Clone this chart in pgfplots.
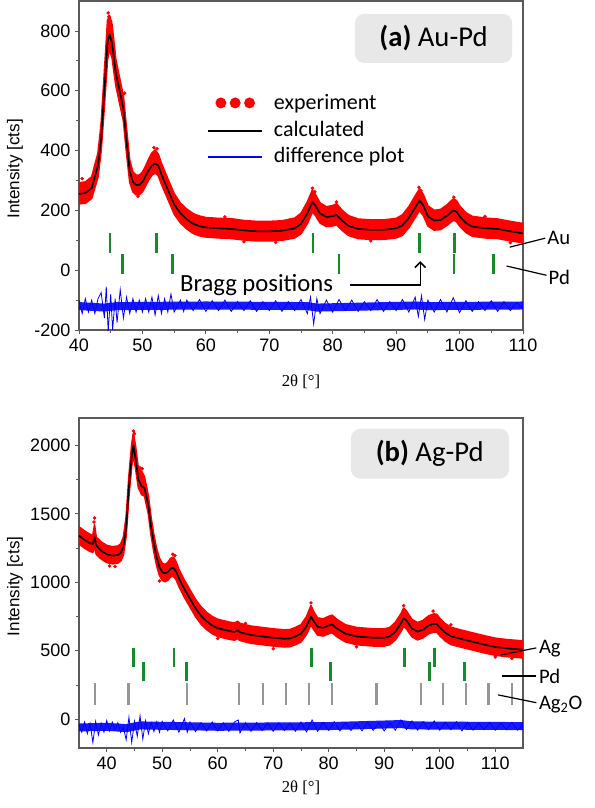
\documentclass[border=0pt]{standalone}
\usepackage{pgfplots}
\pgfplotsset{compat=1.18}
\usepackage{pgfplotstable}
\usepackage{fontspec}
\setmainfont{Liberation Sans}
\newfontfamily\calfont{Carlito}
\newfontfamily\tnr{Liberation Serif}
\usetikzlibrary{arrows.meta}
\definecolor{bragg}{RGB}{20,140,40}
\definecolor{agO}{RGB}{150,150,150}
\definecolor{boxg}{RGB}{232,232,232}
\definecolor{frm}{RGB}{90,90,90}

\pgfplotstableread{
x y
40 255
41 258
42 275
43 350
43.5 440
44 600
44.5 760
44.8 790
45.2 760
45.8 660
46.5 590
47 540
47.5 430
48 330
48.5 295
49 285
49.5 285
50 295
50.5 315
51 335
51.5 350
52 357
52.5 350
53 320
54 270
55 220
56 190
57 170
58 155
59 147
60 143
62 140
64 138
66 133
68 130
70 130
72 132
74 140
75 155
76 190
76.8 228
77.3 215
78 190
79 178
80 180
80.6 185
81.5 165
82.5 148
84 138
86 135
88 135
90 140
91 150
92 175
93 210
93.7 233
94.3 215
95 180
96 166
97 168
98 182
99 200
99.5 196
100 180
101 158
102 146
104 140
106 138
108 130
110 123
}\calcA

\pgfplotstableread{
x y
35 1340
36 1310
37 1285
37.5 1280
37.8 1330
38.1 1270
39 1230
40 1205
41 1195
42 1200
42.5 1215
43 1260
43.5 1400
44 1700
44.5 1920
44.8 2000
45.2 1900
45.7 1750
46.3 1700
46.8 1690
47.5 1560
48 1400
48.5 1280
49 1180
49.5 1110
50 1075
50.5 1065
51 1075
51.5 1100
52 1105
52.5 1080
53 1030
54 950
55 880
56 810
57 755
58 715
59 685
60 665
61 655
62 645
63 638
63.6 650
64 635
66 615
68 605
70 595
72 588
73 590
74 605
75 625
76 680
76.8 750
77.3 715
78 675
79 668
80 685
80.6 692
81.5 662
83 625
85 605
88 595
90 595
91 605
92 640
93 700
93.5 738
94 720
95 662
96 640
97 655
98 685
99 698
99.5 694
100 670
101 632
102 606
104 585
106 565
108 545
110 528
112 518
115 508
}\calcB

\pgfplotsset{
  mystyle/.style={
    scale only axis, width=333pt, clip mode=individual,
    axis line style={frm, line width=0.8pt},
    tick style={frm, line width=0.6pt},
    tick align=outside, xtick pos=bottom, ytick pos=left,
    major tick length=3pt, minor tick length=2pt,
    minor x tick num=1, minor y tick num=1,
    tick label style={font=\fontsize{13.5}{15}\selectfont},
    /pgf/number format/assume math mode=true,
    /pgf/number format/1000 sep={},
    ylabel={Intensity [cts]},
    every axis y label/.style={at={(axis description cs:-0.144,0.49)}, rotate=90, anchor=center, font=\fontsize{12.8}{14}\selectfont},
    xlabel={\tnr 2θ [°]},
    legend cell align=left,
  }
}

\begin{document}
\begin{tikzpicture}
\path[use as bounding box] (0,0) rectangle (445.5pt,-606pt);

% ---------------- (a) Au-Pd ----------------
\begin{axis}[mystyle,
  at={(59.25pt,-0.75pt)}, anchor=north west, height=246.75pt,
  xmin=40, xmax=110, ymin=-200, ymax=900,
  xtick={40,50,...,110}, ytick={-200,0,...,800},
  every axis x label/.style={at={(axis description cs:0.5,0)}, anchor=center, yshift=-39pt, font=\fontsize{12.5}{14}\selectfont},
  legend style={at={(axis description cs:0.279,0.727)}, anchor=north west, draw=none, fill=none,
    font=\calfont\fontsize{16.5}{18}\selectfont, row sep=3.8pt, column sep=0pt,
    nodes={inner sep=0pt, text height=12pt, text depth=4pt},
    /tikz/every odd column/.append style={column sep=8pt}},
]
% experimental scatter: upper edge forward, lower edge back
\addplot[red, fill=red, line width=1.2pt, line join=round,
  legend image code/.code={\fill[red, draw=none] (9.5pt,0) circle (4.1pt); \fill[red, draw=none] (20.25pt,0) circle (4.1pt); \fill[red, draw=none] (31pt,0) circle (4.1pt);}]
 coordinates {(40,292) (41,295) (42,312) (43,392) (43.5,492) (44,662) (44.5,835) (44.8,852) (45.2,822) (45.8,705) (46.5,632) (47,582) (47.5,472) (48,368) (48.5,328) (49,318) (49.5,318) (50,328) (50.5,348) (51,372) (51.5,392) (52,402) (52.5,388) (53,357) (54,306) (55,256) (56,224) (57,204) (58,189) (59,181) (60,176) (62,173) (64,172) (66,166) (68,163) (70,163) (72,165) (74,174) (75,190) (76,228) (76.8,268) (77.3,252) (78,225) (79,212) (80,216) (80.6,222) (81.5,200) (82.5,182) (84,171) (86,168) (88,168) (90,173) (91,185) (92,212) (93,248) (93.7,272) (94.3,252) (95,215) (96,200) (97,203) (98,218) (99,238) (99.5,233) (100,215) (101,192) (102,180) (104,174) (106,171) (108,163) (110,156)
 (110,92) (108,98) (106,106) (104,108) (102,114) (101,126) (100,148) (99.5,163) (99,167) (98,150) (97,136) (96,134) (95,148) (94.3,182) (93.7,200) (93,176) (92,142) (91,117) (90,108) (88,103) (86,103) (84,106) (82.5,116) (81.5,133) (80.6,152) (80,148) (79,146) (78,158) (77.3,182) (76.8,195) (76,156) (75,122) (74,108) (72,100) (70,98) (68,98) (66,101) (64,106) (62,108) (60,111) (59,115) (58,123) (57,138) (56,158) (55,188) (54,238) (53,287) (52.5,316) (52,325) (51.5,318) (51,302) (50.5,282) (50,262) (49.5,252) (49,252) (48.5,262) (48,294) (47.5,390) (47,500) (46.5,548) (45.8,618) (45.2,712) (44.8,738) (44.5,705) (44,548) (43.5,400) (43,312) (42,240) (41,224) (40,222)};
\addlegendentry{experiment}
\addplot[red, only marks, mark=*, mark size=1.1pt, forget plot] coordinates {
(44.6,860) (44.7,848) (45.0,832) (51.8,410) (52.3,406) (40.5,306) (42.5,320) (43.2,408) (47.2,592)
(76.8,274) (77.2,262) (93.6,277) (93.9,266) (99.1,244) (80.6,228) (66,95) (71,93) (49.3,247) (104,180) (63,178) (86,98) (108,92)};
\addplot[black, line width=1.2pt, line join=round,
  legend image code/.code={\draw[black, line width=1.6pt] (0pt,0pt) -- (40.5pt,0pt);}]
  table[x=x,y=y] {\calcA};
\addlegendentry{calculated}
\addplot[blue, line width=6pt, opacity=0.9,
  legend image code/.code={\draw[blue, line width=1.5pt, opacity=1] (0pt,0pt) -- (40.5pt,0pt);}]
  coordinates {(40,-120) (44,-125) (46,-120) (60,-118) (76,-120) (77.5,-125) (93,-118) (95,-120) (110,-118)};
\addlegendentry{difference plot}
\addplot[blue, line width=0.6pt, forget plot] coordinates {
(40,-100) (40.5,-145) (41,-95) (41.5,-140) (42,-100) (42.5,-145) (43,-95) (43.5,-75) (44,-160) (44.3,-55) (44.6,-205) (45,-80) (45.3,-200) (45.7,-95) (46,-175) (46.5,-65) (47,-160) (47.5,-90) (48,-145) (48.5,-95) (49,-140) (49.5,-100) (50,-140) (50.5,-95) (51,-140) (51.5,-90) (52,-150) (52.5,-85) (53,-145) (53.5,-95) (54,-140) (54.5,-80) (55,-140) (56,-100) (56.5,-138) (57,-100) (58,-135) (59,-98) (60,-138) (61,-102) (62,-135) (63,-100) (64,-138) (65,-105) (66,-135) (67,-102) (68,-138) (69,-105) (70,-135) (71,-102) (72,-138) (73,-105) (74,-135) (75,-98) (76,-145) (76.5,-90) (77,-180) (77.5,-95) (78,-145) (79,-100) (80,-140) (81,-98) (82,-135) (83,-100) (84,-138) (85,-105) (86,-135) (87,-98) (88,-138) (89,-105) (90,-135) (91,-98) (92,-140) (93,-90) (93.5,-155) (94,-85) (94.5,-165) (95,-100) (96,-140) (97,-98) (98,-140) (99,-92) (100,-142) (101,-102) (102,-138) (103,-105) (104,-135) (105,-102) (106,-138) (107,-105) (108,-135) (109,-108) (110,-130)};
% Bragg positions
\addplot[bragg, only marks, mark=|, mark size=7.5pt, mark options={line width=2pt}, forget plot]
  coordinates {(44.9,90) (52.2,90) (76.9,90) (93.7,90) (99.2,90)};
\addplot[bragg, only marks, mark=|, mark size=7.5pt, mark options={line width=2pt}, forget plot]
  coordinates {(46.9,20) (54.7,20) (81.0,20) (99.1,20) (105.3,20)};
% annotations
\fill[boxg, rounded corners=7pt] (axis cs:83.5,693) rectangle (axis cs:108.3,857);
\node[font=\calfont\fontsize{21.5}{24}\selectfont] at (axis cs:95.9,775) {\textbf{(a)} Au-Pd};
\node[anchor=west, inner sep=0pt, font=\calfont\fontsize{18.5}{20}\selectfont] at (axis cs:55.9,-50) {Bragg positions};
\draw[black, line width=1.1pt, -{Straight Barb[length=4pt,width=8pt]}] (axis cs:82.7,-50) -- (axis cs:93.8,-50) -- (axis cs:93.8,30);
\draw[black, line width=0.9pt] (axis cs:107.9,77) -- (axis cs:113.5,107);
\node[anchor=west, inner sep=1pt, font=\calfont\fontsize{15.5}{17}\selectfont] at (axis cs:113.6,107) {Au};
\draw[black, line width=0.9pt] (axis cs:107.4,14) -- (axis cs:113.7,-17);
\node[anchor=west, inner sep=1pt, font=\calfont\fontsize{15.5}{17}\selectfont] at (axis cs:113.8,-24) {Pd};
\end{axis}

% ---------------- (b) Ag-Pd ----------------
\begin{axis}[mystyle,
  at={(59.25pt,-313.5pt)}, anchor=north west, height=247.5pt,
  xmin=35, xmax=115, ymin=-210, ymax=2200,
  xtick={40,50,...,110}, ytick={0,500,...,2000},
  every axis x label/.style={at={(axis description cs:0.5,0)}, anchor=center, yshift=-30pt, font=\fontsize{12.5}{14}\selectfont},
]
\addplot[red, fill=red, line width=1.2pt, line join=round, forget plot]
 coordinates {(35,1405) (36,1375) (37,1350) (37.5,1345) (37.8,1420) (38.1,1330) (39,1295) (40,1270) (41,1260) (42,1265) (42.5,1280) (43,1330) (43.5,1480) (44,1780) (44.5,2010) (44.8,2090) (45.2,1990) (45.7,1830) (46.3,1810) (46.8,1770) (47.5,1630) (48,1470) (48.5,1345) (49,1245) (49.5,1175) (50,1140) (50.5,1130) (51,1145) (51.5,1175) (52,1185) (52.5,1150) (53,1095) (54,1015) (55,945) (56,875) (57,820) (58,780) (59,750) (60,730) (61,720) (62,710) (63,703) (63.6,715) (64,700) (66,680) (68,670) (70,660) (72,653) (73,655) (74,670) (75,690) (76,750) (76.8,830) (77.3,785) (78,740) (79,733) (80,752) (80.6,760) (81.5,728) (83,690) (85,670) (88,660) (90,660) (91,670) (92,708) (93,770) (93.5,812) (94,790) (95,728) (96,706) (97,722) (98,755) (99,770) (99.5,765) (100,738) (101,698) (102,672) (104,650) (106,630) (108,610) (110,592) (112,582) (115,572)
 (115,448) (112,458) (110,468) (108,485) (106,505) (104,525) (102,546) (101,572) (100,610) (99.5,634) (99,638) (98,625) (97,595) (96,580) (95,602) (94,660) (93.5,678) (93,640) (92,580) (91,545) (90,535) (88,535) (85,545) (83,565) (81.5,602) (80.6,632) (80,625) (79,608) (78,615) (77.3,655) (76.8,690) (76,620) (75,565) (74,545) (73,530) (72,528) (70,535) (68,545) (66,555) (64,575) (63.6,590) (63,578) (62,585) (61,595) (60,605) (59,625) (58,655) (57,695) (56,750) (55,820) (54,890) (53,970) (52.5,1020) (52,1045) (51.5,1040) (51,1015) (50.5,1005) (50,1015) (49.5,1050) (49,1120) (48.5,1220) (48,1340) (47.5,1500) (46.8,1630) (46.3,1640) (45.7,1690) (45.2,1830) (44.8,1930) (44.5,1850) (44,1630) (43.5,1340) (43,1200) (42.5,1155) (42,1140) (41,1135) (40,1145) (39,1170) (38.1,1205) (37.8,1260) (37.5,1220) (37,1225) (36,1250) (35,1280)};
\addplot[red, only marks, mark=*, mark size=1.1pt, forget plot] coordinates {
(37.8,1470) (37.7,1440) (44.8,2105) (45,2085) (45.6,1845) (46,1835) (46.4,1830) (51.9,1205) (52.3,1195) (49.5,1010)
(76.8,850) (93.5,830) (98.8,790) (40.5,1120) (41.5,1115) (70,515) (110,455) (113,445) (60,590) (85,530) (65,700) (102,690)};
\addplot[black, line width=1.2pt, line join=round, forget plot] table[x=x,y=y] {\calcB};
\addplot[blue, line width=6pt, opacity=0.9, forget plot]
  coordinates {(35,-60) (40,-55) (43.5,-65) (46,-45) (60,-55) (80,-50) (93,-35) (95,-45) (115,-50)};
\addplot[blue, line width=0.6pt, forget plot] coordinates {
(35,-40) (35.5,-95) (36,-20) (36.5,-105) (37,-30) (37.5,-170) (38,-15) (38.5,-115) (39,-30) (39.5,-95) (40,-10) (40.5,-85) (41,-20) (41.5,-75) (42,-25) (42.5,-95) (43,-60) (43.5,-150) (44,15) (44.5,-170) (45,-15) (45.5,-125) (46,25) (46.5,-145) (47,-10) (47.5,-105) (48,-25) (48.5,-90) (49,-20) (49.5,-95) (50,-15) (51,-85) (52,-5) (53,-95) (54,5) (54.5,-95) (55,-20) (56,-90) (57,-25) (58,-85) (59,-20) (60,-85) (61,-25) (62,-88) (63,-20) (63.7,-5) (64,-100) (65,-25) (66,-88) (67,-25) (68,-82) (69,-28) (70,-88) (71,-25) (72,-82) (73,-28) (74,-88) (75,-20) (76,-92) (77,-5) (78,-88) (79,-22) (80,-82) (81,-18) (82,-85) (83,-25) (84,-82) (85,-28) (86,-85) (87,-20) (88,-82) (89,-25) (90,-85) (91,-25) (92,-80) (93,-5) (94,-75) (95,-12) (96,-80) (97,-18) (98,-76) (99,-12) (100,-80) (101,-22) (102,-76) (103,-18) (104,-85) (105,-22) (106,-80) (107,-28) (108,-76) (109,-22) (110,-80) (111,-28) (112,-76) (113,-22) (114,-80) (115,-40)};
% Bragg positions
\addplot[bragg, only marks, mark=|, mark size=7.2pt, mark options={line width=2pt}, forget plot]
  coordinates {(44.8,452) (52.1,452) (76.9,452) (93.6,452) (99.1,452)};
\addplot[bragg, only marks, mark=|, mark size=7.2pt, mark options={line width=2pt}, forget plot]
  coordinates {(46.6,350) (54.4,350) (80.3,350) (98.2,350) (104.4,350)};
\addplot[agO, only marks, mark=|, mark size=8pt, mark options={line width=1.7pt}, forget plot]
  coordinates {(37.9,185) (43.9,185) (54.4,185) (63.8,185) (68.2,185) (72.3,185) (76.5,185) (80.6,185) (88.6,185) (96.6,185) (100.6,185) (104.7,185) (108.8,185) (113.0,185)};
% annotations
\fill[boxg, rounded corners=7pt] (axis cs:84.0,1757) rectangle (axis cs:112.5,2122);
\node[font=\calfont\fontsize{21.5}{24}\selectfont] at (axis cs:98.2,1939) {\textbf{(b)} Ag-Pd};
\draw[black, line width=0.9pt] (axis cs:111.0,470) -- (axis cs:117.4,521);
\node[anchor=west, inner sep=1pt, font=\calfont\fontsize{15.5}{17}\selectfont] at (axis cs:117.6,515) {Ag};
\draw[black, line width=0.9pt] (axis cs:111.2,316) -- (axis cs:117.4,316);
\node[anchor=west, inner sep=1pt, font=\calfont\fontsize{15.5}{17}\selectfont] at (axis cs:117.6,316) {Pd};
\draw[black, line width=0.9pt] (axis cs:110.5,178) -- (axis cs:117.4,121);
\node[anchor=west, inner sep=1pt, font=\calfont\fontsize{15.5}{17}\selectfont] at (axis cs:117.6,105) {Ag\textsubscript{2}O};
\end{axis}
\end{tikzpicture}
\end{document}
